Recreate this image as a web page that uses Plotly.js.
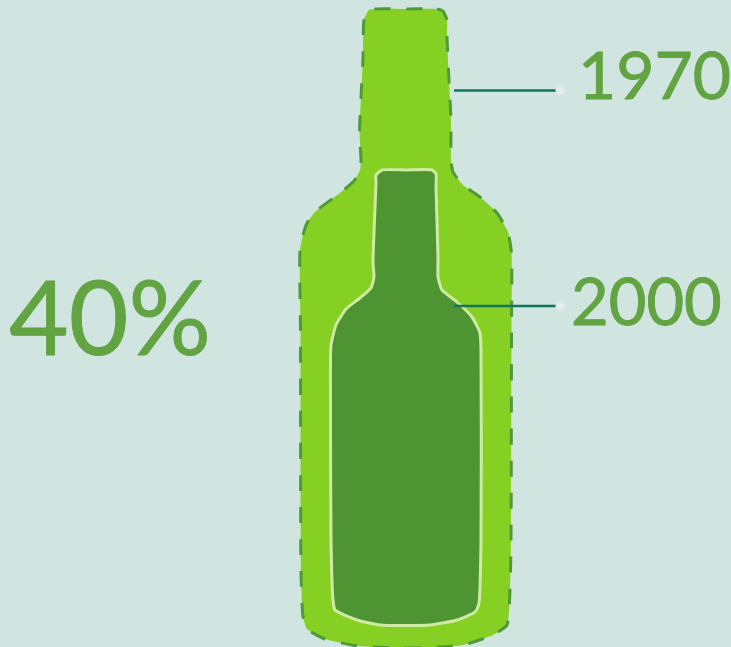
<!DOCTYPE html>
<html><head><meta charset="utf-8">
<script src="https://cdn.plot.ly/plotly-3.0.1.min.js"></script>
<style>html,body{margin:0;padding:0;background:#D1E5E0}
.annotation-text{stroke:#62A342;stroke-width:0.9px}</style></head>
<body><div id="chart" style="width:731px;height:647px"></div>
<script>
const bottle1970X=[405,437,443,447,447,449,451,451,453,463,480,497,508,511.5,511.5,511,510,507,493,463,437,405,358,325,307,303,301,300.5,300,303,307,315,340,354,360,361,359.5,361,363,364,369,405];
const bottle1970Y=[9,9,11,20,37,80,120,160,172,185,197,213,232,253,330,540,590,625,635,645,647,648,646,639,629,617,573,330,250,235,223,212,193,181,170,160,133,97,57,20,10,9];
const bottle2000X=[406,432,436,436,438,438,442,457,472,480,481,481,479,475,457,430,380,357,335,333,331,330.5,331,336,346,360,371,374,373,376,376,382,406];
const bottle2000Y=[170,170,174,187,257,277,290,302,317,333,350,540,603,612,620,625,625,620,610,600,540,400,345,325,309,298,288,277,263,183,175,170,170];
const leaderX=[454,557];
const leader1970Y=[90.5,90.5];
const leader2000Y=[306,306];
const years=["1970","2000"];
const share="40%";
const dotX=[560,560];
const dotY=[90.5,306];
const ink="#62A342";
const font="Lato, 'Open Sans', sans-serif";
const traces=[
 {x:bottle1970X,y:bottle1970Y,mode:"lines",fill:"toself",fillcolor:"#86D024",
  line:{color:"#4E9A38",width:3,dash:"16px,16px",shape:"spline",smoothing:0.5},hoverinfo:"skip"},
 {x:bottle2000X,y:bottle2000Y,mode:"lines",fill:"toself",fillcolor:"#4E9433",
  line:{color:"#CFEBA3",width:3,shape:"spline",smoothing:0.5},hoverinfo:"skip"},
 {x:leaderX,y:leader1970Y,mode:"lines",line:{color:"#14755F",width:2.5},hoverinfo:"skip"},
 {x:leaderX,y:leader2000Y,mode:"lines",line:{color:"#14755F",width:2.5},hoverinfo:"skip"},
 {x:dotX,y:dotY,mode:"markers",marker:{color:"#E3EDE9",size:9},hoverinfo:"skip"}
];
const layout={
 width:731,height:647,margin:{l:0,r:0,t:0,b:0},showlegend:false,
 paper_bgcolor:"#D1E5E0",plot_bgcolor:"#D1E5E0",
 xaxis:{range:[0,731],visible:false,fixedrange:true},
 yaxis:{range:[647,0],visible:false,fixedrange:true},
 annotations:[
  {x:654,y:73,text:years[0],showarrow:false,font:{family:font,size:66,color:ink}},
  {x:646,y:300,text:years[1],showarrow:false,font:{family:font,size:65,color:ink}},
  {x:110,y:315,text:share,showarrow:false,font:{family:font,size:103,color:ink}}
 ]
};
Plotly.newPlot("chart",traces,layout,{displayModeBar:false,staticPlot:true});
</script></body></html>
